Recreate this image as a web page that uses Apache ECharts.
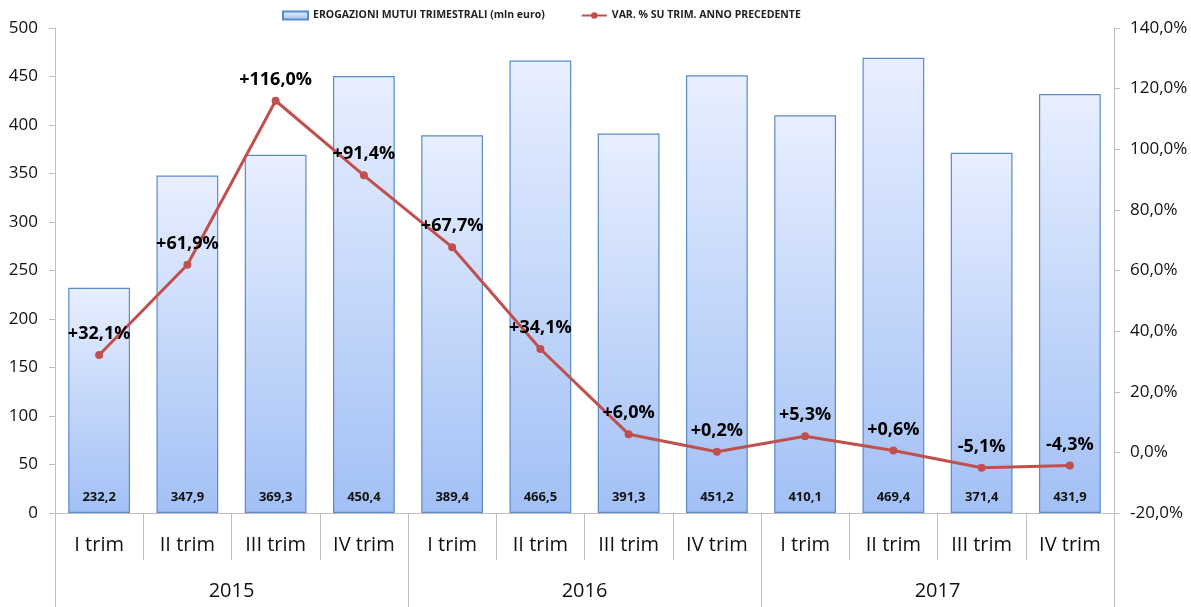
<!DOCTYPE html>
<html><head><meta charset="utf-8">
<script src="https://cdn.jsdelivr.net/npm/echarts@6/dist/echarts.min.js"></script>
<style>html,body{margin:0;padding:0;background:#fff}#c{width:1191px;height:607px}</style>
</head><body><div id="c"></div>
<script>
var quarters = ['I trim','II trim','III trim','IV trim','I trim','II trim','III trim','IV trim','I trim','II trim','III trim','IV trim'];
var years = ['2015','2016','2017'];
var erogazioni = [232.2, 347.9, 369.3, 450.4, 389.4, 466.5, 391.3, 451.2, 410.1, 469.4, 371.4, 431.9];
var variazione = [32.1, 61.9, 116.0, 91.4, 67.7, 34.1, 6.0, 0.2, 5.3, 0.6, -5.1, -4.3];
var seriesNames = ['EROGAZIONI MUTUI TRIMESTRALI (mln euro)', 'VAR. % SU TRIM. ANNO PRECEDENTE'];

var font = '"Open Sans", "Noto Sans", sans-serif';
function comma(v, d){ return v.toFixed(d).replace('.', ','); }
var axisGray = '#bfbfbf';
var chart = echarts.init(document.getElementById('c'));
var gridPos = {left: 55, right: 77, top: 28, bottom: 94};
chart.setOption({
  animation: false,
  textStyle: {fontFamily: font},
  legend: {
    top: 5, left: 277, itemGap: 36, itemWidth: 25, itemHeight: 8,
    textStyle: {fontSize: 10.5, fontWeight: 'bold', color: '#222', fontFamily: font},
    data: [
      {name: seriesNames[0], icon: 'rect'},
      {name: seriesNames[1]}
    ]
  },
  grid: [Object.assign({}, gridPos), Object.assign({}, gridPos)],
  xAxis: [
    {
      type: 'category', data: quarters, position: 'bottom', gridIndex: 0,
      axisLine: {lineStyle: {color: axisGray}},
      axisTick: {show: true, interval: 0, length: 47, lineStyle: {color: axisGray}},
      axisLabel: {interval: 0, margin: 22, fontSize: 20, color: '#111', fontFamily: font}
    },
    {
      type: 'category', data: years, position: 'bottom', gridIndex: 1,
      axisLine: {show: false},
      axisTick: {show: true, interval: 0, length: 94, lineStyle: {color: axisGray}},
      axisLabel: {interval: 0, margin: 68, fontSize: 20, color: '#111', fontFamily: font}
    }
  ],
  yAxis: [
    {
      type: 'value', min: 0, max: 500, interval: 50, gridIndex: 0,
      splitLine: {show: false},
      axisLine: {show: true, lineStyle: {color: axisGray}},
      axisTick: {show: true, length: 6, lineStyle: {color: axisGray}},
      axisLabel: {fontSize: 17, color: '#111', margin: 17, fontFamily: font}
    },
    {
      type: 'value', min: -20, max: 140, interval: 20, gridIndex: 0,
      splitLine: {show: false},
      axisLine: {show: true, lineStyle: {color: axisGray}},
      axisTick: {show: true, length: 6, lineStyle: {color: axisGray}},
      axisLabel: {fontSize: 17, color: '#111', margin: 16, fontFamily: font,
        formatter: function(v){ return comma(v, 1) + '%'; }}
    },
    {
      type: 'value', min: 0, max: 1, gridIndex: 1, show: false
    }
  ],
  series: [
    {
      name: seriesNames[0], type: 'bar', xAxisIndex: 0, yAxisIndex: 0,
      data: erogazioni, barWidth: '70%',
      itemStyle: {
        borderColor: '#5b8bc9', borderWidth: 1.2,
        color: new echarts.graphic.LinearGradient(0, 0, 0, 1, [
          {offset: 0, color: '#e8efff'},
          {offset: 1, color: '#a2c0f5'}
        ])
      },
      label: {
        show: true, position: 'insideBottom', distance: 9,
        fontSize: 13, fontWeight: 'bold', color: '#111', fontFamily: font,
        formatter: function(p){ return comma(p.value, 1); }
      }
    },
    {
      name: seriesNames[1], type: 'line', xAxisIndex: 0, yAxisIndex: 1,
      data: variazione, symbol: 'circle', symbolSize: 8,
      lineStyle: {color: '#c0504d', width: 3},
      itemStyle: {color: '#c0504d'},
      label: {
        show: true, position: 'top', distance: 8,
        fontSize: 18, fontWeight: 'bold', color: '#000', fontFamily: font,
        formatter: function(p){ return (p.value >= 0 ? '+' : '') + comma(p.value, 1) + '%'; }
      },
      z: 5
    }
  ]
});
</script></body></html>
